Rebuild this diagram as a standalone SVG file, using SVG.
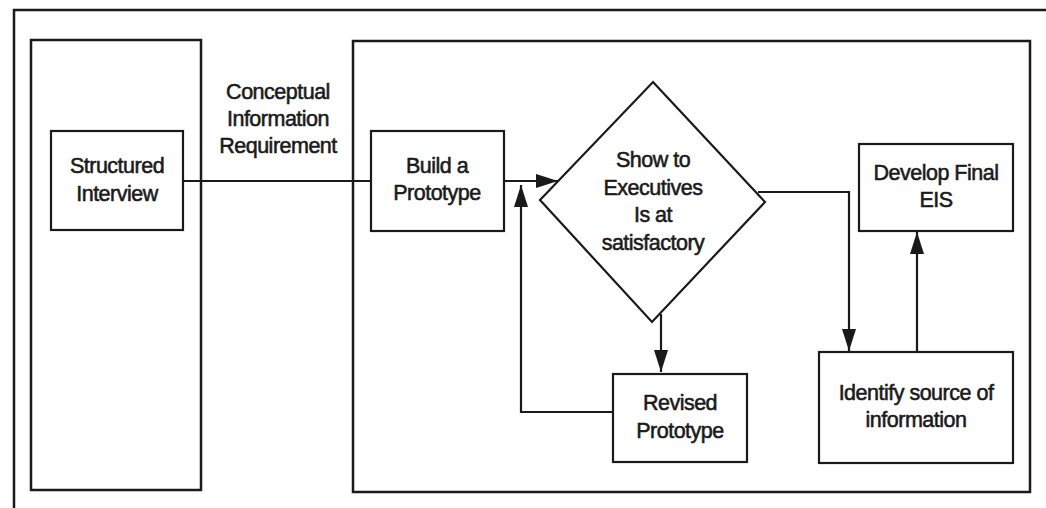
<svg xmlns="http://www.w3.org/2000/svg" width="1046" height="508" viewBox="0 0 1046 508">
  <defs>
    <style>
      .frame { fill: none; stroke: #1a1a1a; stroke-width: 2.5; }
      .box { fill: #ffffff; stroke: #1a1a1a; stroke-width: 2.2; }
      .line { fill: none; stroke: #1a1a1a; stroke-width: 2.2; }
      .lbl { font-family: "Liberation Sans", Arial, sans-serif; font-size: 21.5px; fill: #1a1a1a; text-anchor: middle; stroke: #1a1a1a; stroke-width: 0.55; letter-spacing: -0.5px; }
    </style>
    <marker id="arrow" viewBox="0 0 22 14" refX="22" refY="7" markerWidth="22" markerHeight="14" markerUnits="userSpaceOnUse" orient="auto">
      <path d="M0,0 L22,7 L0,14 Z" fill="#1a1a1a"/>
    </marker>
  </defs>

  <rect width="1046" height="508" fill="#ffffff"/>

  <!-- outer frame, cut off at the right and bottom -->
  <path class="frame" d="M14,512 L14,10 L1050,10"/>

  <!-- left panel -->
  <rect id="left-panel" class="frame" x="31" y="40" width="170" height="450"/>

  <!-- right panel -->
  <rect id="right-panel" class="frame" x="353" y="41" width="677" height="451"/>

  <!-- connectors -->
  <g id="connectors">
    <!-- Structured Interview -> Build a Prototype -->
    <path class="line" d="M183,181 L371,181"/>
    <!-- Build a Prototype -> decision -->
    <path class="line" d="M504,181 L558,181" marker-end="url(#arrow)"/>
    <!-- decision -> Revised Prototype -->
    <path class="line" d="M661,314 L661,372" marker-end="url(#arrow)"/>
    <!-- Revised Prototype -> back into the decision input -->
    <path class="line" d="M613,412 L521,412 L521,185" marker-end="url(#arrow)"/>
    <!-- decision -> Identify source of information -->
    <path class="line" d="M758,192 L849,192 L849,351" marker-end="url(#arrow)"/>
    <!-- Identify source of information -> Develop Final EIS -->
    <path class="line" d="M917,352 L917,232" marker-end="url(#arrow)"/>
  </g>

  <g id="label-conceptual">
    <text class="lbl" x="278" y="99">Conceptual</text>
    <text class="lbl" x="278" y="126">Information</text>
    <text class="lbl" x="278" y="153">Requirement</text>
  </g>

  <g id="structured-interview">
    <rect class="box" x="51" y="131" width="132" height="99"/>
    <text class="lbl" x="117" y="173">Structured</text>
    <text class="lbl" x="117" y="201">Interview</text>
  </g>

  <g id="build-prototype">
    <rect class="box" x="371" y="131" width="133" height="100"/>
    <text class="lbl" x="437" y="173">Build a</text>
    <text class="lbl" x="437" y="200">Prototype</text>
  </g>

  <g id="show-to-executives">
    <path class="box" d="M653,82 L765,202 L652,322 L540,200 Z"/>
    <text class="lbl" x="653" y="167">Show to</text>
    <text class="lbl" x="653" y="195">Executives</text>
    <text class="lbl" x="653" y="222">Is at</text>
    <text class="lbl" x="653" y="250">satisfactory</text>
  </g>

  <g id="revised-prototype">
    <rect class="box" x="613" y="374" width="134" height="88"/>
    <text class="lbl" x="680" y="410">Revised</text>
    <text class="lbl" x="680" y="438">Prototype</text>
  </g>

  <g id="identify-source">
    <rect class="box" x="819" y="352" width="194" height="111"/>
    <text class="lbl" x="916" y="400">Identify source of</text>
    <text class="lbl" x="916" y="427">information</text>
  </g>

  <g id="develop-final-eis">
    <rect class="box" x="859" y="144" width="154" height="87"/>
    <text class="lbl" x="936" y="180">Develop Final</text>
    <text class="lbl" x="936" y="207">EIS</text>
  </g>
</svg>
